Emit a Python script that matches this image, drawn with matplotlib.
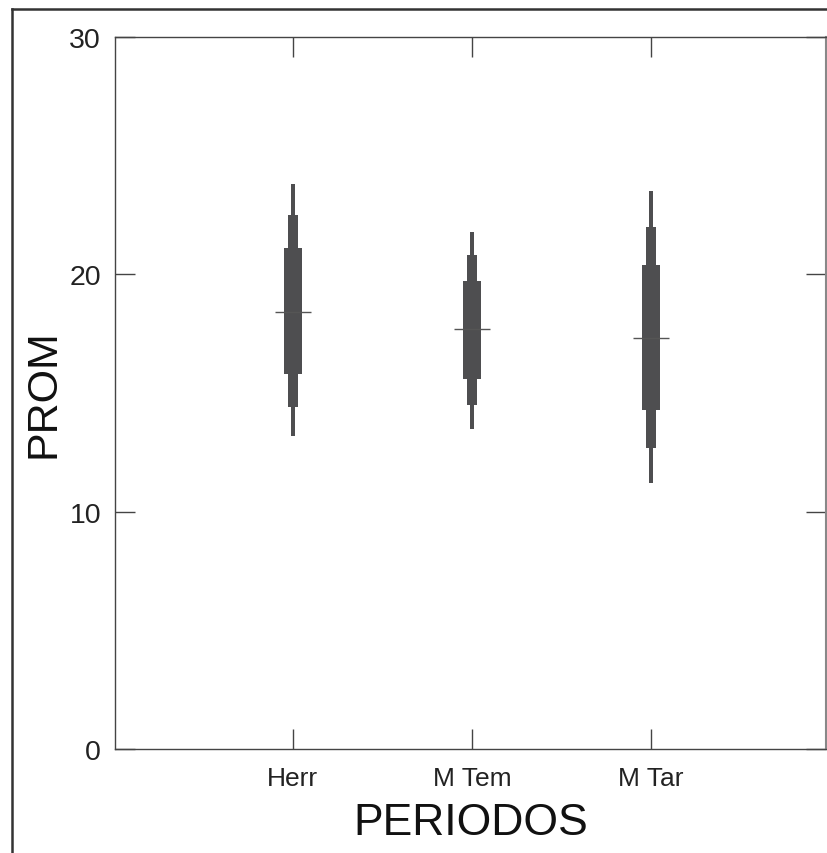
import matplotlib
matplotlib.use("Agg")
import matplotlib.pyplot as plt
from matplotlib.lines import Line2D

plt.rcParams['font.family'] = ['Liberation Sans', 'DejaVu Sans']

categories = ["Herr", "M Tem", "M Tar"]
positions = [1, 2, 3]
thin_low = [13.2, 13.5, 11.2]
thin_high = [23.8, 21.8, 23.5]
mid_low = [14.4, 14.5, 12.7]
mid_high = [22.5, 20.8, 22.0]
thick_low = [15.8, 15.6, 14.3]
thick_high = [21.1, 19.7, 20.4]
medians = [18.4, 17.7, 17.3]
yticks = [0, 10, 20, 30]

bar_color = "#4e4e50"

fig = plt.figure(figsize=(8.27, 8.54), dpi=100)
ax = fig.add_axes([115/827, 104/854, 711/827, 712/854])

ax.bar(positions, [h - l for h, l in zip(thin_high, thin_low)], bottom=thin_low,
       width=0.026, color=bar_color, linewidth=0)
ax.bar(positions, [h - l for h, l in zip(mid_high, mid_low)], bottom=mid_low,
       width=0.054, color=bar_color, linewidth=0)
ax.bar(positions, [h - l for h, l in zip(thick_high, thick_low)], bottom=thick_low,
       width=0.098, color=bar_color, linewidth=0)
ax.hlines(medians, [p - 0.1 for p in positions], [p + 0.1 for p in positions],
          color="#555555", linewidth=1.0)

ax.set_xlim(0.006, 3.978)
ax.set_ylim(0, 30)
ax.set_xticks(positions)
ax.set_xticklabels(categories)
ax.set_yticks(yticks)
ax.tick_params(axis='x', direction='in', length=14.5, width=1, color="#444444",
               top=True, labelsize=19, pad=12, labelcolor="#222222")
ax.tick_params(axis='y', direction='in', length=14.5, width=1, color="#444444",
               right=True, labelsize=20.5, pad=10, labelcolor="#222222")
for s in ax.spines.values():
    s.set_color("#444444")
    s.set_linewidth(1.0)
ax.spines['right'].set_color("#888888")
ax.spines['right'].set_linewidth(1.5)

ax.set_xlabel("PERIODOS", fontsize=32, color="#111111", labelpad=9)
ax.set_ylabel("PROM", fontsize=31, color="#111111", labelpad=4)

# outer frame
fig.add_artist(Line2D([12/827, 1.0], [1 - 10/854, 1 - 10/854], transform=fig.transFigure,
                      color="#333333", linewidth=1.8))
fig.add_artist(Line2D([12/827, 12/827], [0, 1 - 10/854], transform=fig.transFigure,
                      color="#333333", linewidth=1.8))

fig.savefig("out.png", dpi=100)
